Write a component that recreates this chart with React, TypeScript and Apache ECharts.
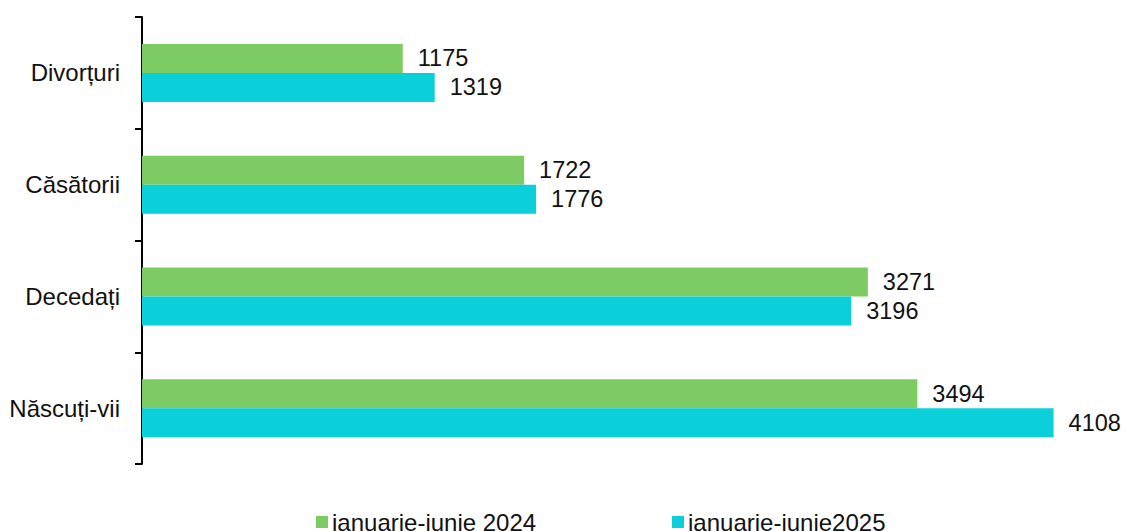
import React, { useEffect, useRef } from "react";
import * as echarts from "echarts";

const categories = ["Divorțuri", "Căsătorii", "Decedați", "Născuți-vii"];
const series2024 = [1175, 1722, 3271, 3494];
const series2025 = [1319, 1776, 3196, 4108];
const seriesNames = ["ianuarie-iunie 2024", "ianuarie-iunie2025"];
const colors = ["#7DCB63", "#0BCFD9"];

export default function App() {
  const ref = useRef<HTMLDivElement>(null);
  useEffect(() => {
    if (!ref.current) return;
    const chart = echarts.init(ref.current, undefined, { renderer: "svg" });
    const font = "'Liberation Sans', Arial, sans-serif";
    const labelCfg = {
      show: true,
      position: "right",
      distance: 15,
      fontSize: 23.5,
      color: "#111",
      fontFamily: font,
    };
    const legendBase = {
      top: 510,
      padding: 0,
      itemWidth: 12,
      itemHeight: 12,
      itemGap: 4,
      icon: "rect",
      textStyle: { fontSize: 24, color: "#111", fontFamily: font, padding: [0, 0, 0, -1] },
    };
    chart.setOption({
      animation: false,
      textStyle: { fontFamily: font },
      grid: { left: 142, top: 17, width: 932, height: 447 },
      xAxis: {
        type: "value",
        min: 0,
        max: 4200,
        show: false,
        splitLine: { show: false },
      },
      yAxis: {
        type: "category",
        inverse: true,
        data: categories,
        axisLine: { show: true, lineStyle: { color: "#000", width: 2 } },
        axisTick: { show: true, length: 7, lineStyle: { color: "#000", width: 2 } },
        axisLabel: { margin: 22, fontSize: 24, color: "#111", fontFamily: font },
      },
      legend: [
        { ...legendBase, data: [seriesNames[0]], left: 316 },
        { ...legendBase, data: [seriesNames[1]], left: 672 },
      ],
      series: [
        {
          name: seriesNames[0],
          type: "bar",
          data: series2024,
          barWidth: 29,
          barGap: "0%",
          itemStyle: { color: colors[0] },
          label: labelCfg,
        },
        {
          name: seriesNames[1],
          type: "bar",
          data: series2025,
          barWidth: 29,
          barGap: "0%",
          itemStyle: { color: colors[1] },
          label: labelCfg,
        },
      ],
    });
    return () => chart.dispose();
  }, []);
  return (
    <div
      ref={ref}
      style={{ position: "fixed", left: 0, top: 0, width: 1125, height: 531, background: "#fff" }}
    />
  );
}
